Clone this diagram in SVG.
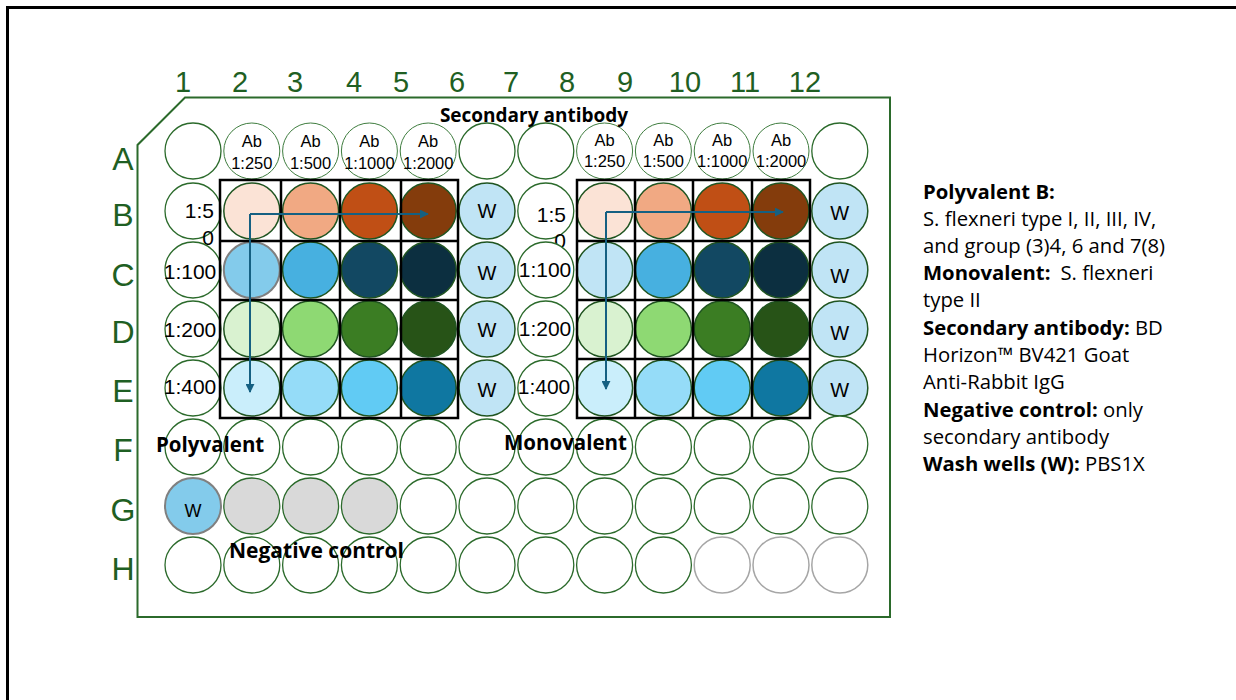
<svg xmlns="http://www.w3.org/2000/svg" width="1236" height="700" viewBox="0 0 1236 700">
<defs>
<style>
.w{fill:#fff;stroke:#2b6a2b;stroke-width:1.3}
.wa{fill:#fff;stroke:#3f7d3f;stroke-width:1}
.wc{stroke:#1f5420;stroke-width:1.5}
.wg{fill:#fff;stroke:#a6a6a6;stroke-width:1.5}
.lab{font-family:"Liberation Sans",Arial,sans-serif;fill:#1f5f23;text-anchor:middle}
.col{font-size:29px}
.row{font-size:32px}
.t{font-family:"Liberation Sans",Arial,sans-serif;fill:#000;text-anchor:middle}
.ab{font-size:16.5px}
.dil{font-size:21px}
.ww{font-size:20px}
.b{font-family:"Open Sans","Liberation Sans",sans-serif;font-weight:bold;fill:#000}
.lg{font-family:"Open Sans","Liberation Sans",sans-serif;font-size:20.3px;fill:#000}
.grid{fill:none;stroke:#000;stroke-width:2.5}
.arr{fill:none;stroke:#156082;stroke-width:2;marker-end:url(#ah)}
</style>
<marker id="ah" viewBox="0 0 10 10" refX="9" refY="5" markerWidth="4.5" markerHeight="4.5" orient="auto" markerUnits="strokeWidth">
<path d="M0,0 L10,5 L0,10 z" fill="#156082"/>
</marker>
</defs>
<rect width="1236" height="700" fill="#fff"/>
<path d="M7.5,700 V7.5 H1236" fill="none" stroke="#000" stroke-width="3"/>
<g id="plate">
<path d="M185,97.5 H890 V617 H137.5 V145 Z" fill="none" stroke="#2b6a2b" stroke-width="2"/>
</g>
<g id="column-labels" class="lab col">
<text x="183" y="92">1</text><text x="240" y="92">2</text><text x="295" y="92">3</text><text x="354" y="92">4</text><text x="401" y="92">5</text><text x="457" y="92">6</text><text x="511" y="92">7</text><text x="567" y="92">8</text><text x="625" y="92">9</text><text x="685" y="92">10</text><text x="745" y="92">11</text><text x="805" y="92">12</text>
</g>
<g id="row-labels" class="lab row">
<text x="123" y="170">A</text><text x="123" y="226">B</text><text x="123" y="286">C</text><text x="123" y="343">D</text><text x="123" y="402">E</text><text x="123" y="461">F</text><text x="123" y="521">G</text><text x="123" y="580">H</text>
</g>
<g id="wells">
<g id="A1"><circle class="w" cx="193" cy="151" r="28" stroke-width="2"/></g>
<g id="A2"><circle class="wa" cx="251.8" cy="151" r="28"/><text class="t ab" x="251.8" y="147">Ab</text><text class="t ab" x="251.8" y="169">1:250</text></g>
<g id="A3"><circle class="wa" cx="310.6" cy="151" r="28"/><text class="t ab" x="310.6" y="147">Ab</text><text class="t ab" x="310.6" y="169">1:500</text></g>
<g id="A4"><circle class="wa" cx="369.4" cy="151" r="28"/><text class="t ab" x="369.4" y="147">Ab</text><text class="t ab" x="369.4" y="169">1:1000</text></g>
<g id="A5"><circle class="wa" cx="428.2" cy="151" r="28"/><text class="t ab" x="428.2" y="147">Ab</text><text class="t ab" x="428.2" y="169">1:2000</text></g>
<g id="A6"><circle class="w" cx="487" cy="151" r="28"/></g>
<g id="A7"><circle class="w" cx="545.8" cy="151" r="28"/></g>
<g id="A8"><circle class="wa" cx="604.6" cy="151" r="28"/><text class="t ab" x="604.6" y="146">Ab</text><text class="t ab" x="604.6" y="167">1:250</text></g>
<g id="A9"><circle class="wa" cx="663.4" cy="151" r="28"/><text class="t ab" x="663.4" y="146">Ab</text><text class="t ab" x="663.4" y="167">1:500</text></g>
<g id="A10"><circle class="wa" cx="722.2" cy="151" r="28"/><text class="t ab" x="722.2" y="146">Ab</text><text class="t ab" x="722.2" y="167">1:1000</text></g>
<g id="A11"><circle class="wa" cx="781" cy="151" r="28"/><text class="t ab" x="781" y="146">Ab</text><text class="t ab" x="781" y="167">1:2000</text></g>
<g id="A12"><circle class="w" cx="839.8" cy="151" r="28"/></g>
<g id="B1"><circle class="w" cx="193" cy="211" r="28"/><text class="t dil" x="214" y="218" style="text-anchor:end">1:5</text><text class="t dil" x="214" y="245" style="text-anchor:end">0</text></g>
<g id="B2"><circle class="wc" fill="#FBE3D6" cx="251.8" cy="211" r="28"/></g>
<g id="B3"><circle class="wc" fill="#F1A983" cx="310.6" cy="211" r="28"/></g>
<g id="B4"><circle class="wc" fill="#C04F15" cx="369.4" cy="211" r="28"/></g>
<g id="B5"><circle class="wc" fill="#843C0C" cx="428.2" cy="211" r="28"/></g>
<g id="B6"><circle class="wc" fill="#C0E4F5" cx="487" cy="211" r="28"/><text class="t ww" x="487" y="218">W</text></g>
<g id="B7"><circle class="w" cx="545.8" cy="211" r="28"/><text class="t dil" x="566" y="222" style="text-anchor:end">1:5</text><text class="t dil" x="566" y="248" style="text-anchor:end">0</text></g>
<g id="B8"><circle class="wc" fill="#FBE3D6" cx="604.6" cy="211" r="28"/></g>
<g id="B9"><circle class="wc" fill="#F1A983" cx="663.4" cy="211" r="28"/></g>
<g id="B10"><circle class="wc" fill="#C04F15" cx="722.2" cy="211" r="28"/></g>
<g id="B11"><circle class="wc" fill="#843C0C" cx="781" cy="211" r="28"/></g>
<g id="B12"><circle class="wc" fill="#C0E4F5" cx="839.8" cy="211" r="28"/><text class="t ww" x="839.8" y="220">W</text></g>
<g id="C1"><circle class="w" cx="193" cy="270" r="28"/><text class="t dil" x="190" y="279">1:100</text></g>
<g id="C2"><circle fill="#83CBEB" stroke="#808080" stroke-width="2" cx="251.8" cy="270" r="28"/></g>
<g id="C3"><circle class="wc" fill="#47B0E0" cx="310.6" cy="270" r="28"/></g>
<g id="C4"><circle class="wc" fill="#124862" cx="369.4" cy="270" r="28"/></g>
<g id="C5"><circle class="wc" fill="#0C2F40" cx="428.2" cy="270" r="28"/></g>
<g id="C6"><circle class="wc" fill="#C0E4F5" cx="487" cy="270" r="28"/><text class="t ww" x="487" y="280">W</text></g>
<g id="C7"><circle class="w" cx="545.8" cy="270" r="28"/><text class="t dil" x="545" y="277">1:100</text></g>
<g id="C8"><circle class="wc" fill="#C0E4F5" cx="604.6" cy="270" r="28"/></g>
<g id="C9"><circle class="wc" fill="#47B0E0" cx="663.4" cy="270" r="28"/></g>
<g id="C10"><circle class="wc" fill="#124862" cx="722.2" cy="270" r="28"/></g>
<g id="C11"><circle class="wc" fill="#0C2F40" cx="781" cy="270" r="28"/></g>
<g id="C12"><circle class="wc" fill="#C0E4F5" cx="839.8" cy="270" r="28"/><text class="t ww" x="839.8" y="283">W</text></g>
<g id="D1"><circle class="w" cx="193" cy="329" r="28"/><text class="t dil" x="190" y="337">1:200</text></g>
<g id="D2"><circle class="wc" fill="#D9F2D0" cx="251.8" cy="329" r="28"/></g>
<g id="D3"><circle class="wc" fill="#8ED973" cx="310.6" cy="329" r="28"/></g>
<g id="D4"><circle class="wc" fill="#3B7D23" cx="369.4" cy="329" r="28"/></g>
<g id="D5"><circle class="wc" fill="#275317" cx="428.2" cy="329" r="28"/></g>
<g id="D6"><circle class="wc" fill="#C0E4F5" cx="487" cy="329" r="28"/><text class="t ww" x="487" y="337">W</text></g>
<g id="D7"><circle class="w" cx="545.8" cy="329" r="28"/><text class="t dil" x="545" y="336">1:200</text></g>
<g id="D8"><circle class="wc" fill="#D9F2D0" cx="604.6" cy="329" r="28"/></g>
<g id="D9"><circle class="wc" fill="#8ED973" cx="663.4" cy="329" r="28"/></g>
<g id="D10"><circle class="wc" fill="#3B7D23" cx="722.2" cy="329" r="28"/></g>
<g id="D11"><circle class="wc" fill="#275317" cx="781" cy="329" r="28"/></g>
<g id="D12"><circle class="wc" fill="#C0E4F5" cx="839.8" cy="329" r="28"/><text class="t ww" x="839.8" y="340">W</text></g>
<g id="E1"><circle class="w" cx="193" cy="388" r="28"/><text class="t dil" x="190" y="394">1:400</text></g>
<g id="E2"><circle class="wc" fill="#CAEEFB" cx="251.8" cy="388" r="28"/></g>
<g id="E3"><circle class="wc" fill="#95DCF8" cx="310.6" cy="388" r="28"/></g>
<g id="E4"><circle class="wc" fill="#61CBF4" cx="369.4" cy="388" r="28"/></g>
<g id="E5"><circle class="wc" fill="#0F77A1" cx="428.2" cy="388" r="28"/></g>
<g id="E6"><circle class="wc" fill="#C0E4F5" cx="487" cy="388" r="28"/><text class="t ww" x="487" y="397">W</text></g>
<g id="E7"><circle class="w" cx="545.8" cy="388" r="28"/><text class="t dil" x="544" y="394">1:400</text></g>
<g id="E8"><circle class="wc" fill="#CAEEFB" cx="604.6" cy="388" r="28"/></g>
<g id="E9"><circle class="wc" fill="#95DCF8" cx="663.4" cy="388" r="28"/></g>
<g id="E10"><circle class="wc" fill="#61CBF4" cx="722.2" cy="388" r="28"/></g>
<g id="E11"><circle class="wc" fill="#0F77A1" cx="781" cy="388" r="28"/></g>
<g id="E12"><circle class="wc" fill="#C0E4F5" cx="839.8" cy="388" r="28"/><text class="t ww" x="839.8" y="397">W</text></g>
<g id="F1"><circle class="w" cx="193" cy="447" r="28"/></g>
<g id="F2"><circle class="w" cx="251.8" cy="447" r="28"/></g>
<g id="F3"><circle class="w" cx="310.6" cy="447" r="28"/></g>
<g id="F4"><circle class="w" cx="369.4" cy="447" r="28"/></g>
<g id="F5"><circle class="w" cx="428.2" cy="447" r="28"/></g>
<g id="F6"><circle class="w" cx="487" cy="447" r="28"/></g>
<g id="F7"><circle class="w" cx="545.8" cy="447" r="28"/></g>
<g id="F8"><circle class="w" cx="604.6" cy="447" r="28"/></g>
<g id="F9"><circle class="w" cx="663.4" cy="447" r="28"/></g>
<g id="F10"><circle class="w" cx="722.2" cy="447" r="28"/></g>
<g id="F11"><circle class="w" cx="781" cy="447" r="28"/></g>
<g id="F12"><circle class="w" cx="839.8" cy="444" r="28"/></g>
<g id="G1"><circle fill="#83CBEB" stroke="#808080" stroke-width="2" cx="193" cy="506" r="28"/><text class="t" x="193" y="517" font-size="18">W</text></g>
<g id="G2"><circle class="w" style="fill:#D9D9D9" cx="251.8" cy="506" r="28"/></g>
<g id="G3"><circle class="w" style="fill:#D9D9D9" cx="310.6" cy="506" r="28"/></g>
<g id="G4"><circle class="w" style="fill:#D9D9D9" cx="369.4" cy="506" r="28"/></g>
<g id="G5"><circle class="w" cx="428.2" cy="506" r="28"/></g>
<g id="G6"><circle class="w" cx="487" cy="506" r="28"/></g>
<g id="G7"><circle class="w" cx="545.8" cy="506" r="28"/></g>
<g id="G8"><circle class="w" cx="604.6" cy="506" r="28"/></g>
<g id="G9"><circle class="w" cx="663.4" cy="506" r="28"/></g>
<g id="G10"><circle class="w" cx="722.2" cy="506" r="28"/></g>
<g id="G11"><circle class="w" cx="781" cy="506" r="28"/></g>
<g id="G12"><circle class="w" cx="839.8" cy="506" r="28"/></g>
<g id="H1"><circle class="w" cx="193" cy="565" r="28"/></g>
<g id="H2"><circle class="w" cx="251.8" cy="565" r="28"/></g>
<g id="H3"><circle class="w" cx="310.6" cy="565" r="28"/></g>
<g id="H4"><circle class="w" cx="369.4" cy="565" r="28"/></g>
<g id="H5"><circle class="w" cx="428.2" cy="565" r="28"/></g>
<g id="H6"><circle class="w" cx="487" cy="565" r="28"/></g>
<g id="H7"><circle class="w" cx="545.8" cy="565" r="28"/></g>
<g id="H8"><circle class="w" cx="604.6" cy="565" r="28"/></g>
<g id="H9"><circle class="w" cx="663.4" cy="565" r="28"/></g>
<g id="H10"><circle class="wg" cx="722.2" cy="565" r="28"/></g>
<g id="H11"><circle class="wg" cx="781" cy="565" r="28"/></g>
<g id="H12"><circle class="wg" cx="839.8" cy="565" r="28"/></g>
</g>
<g id="grid-polyvalent" class="grid">
<rect x="220" y="180" width="238" height="238"/>
<path d="M281,180 V418 M340,180 V418 M401,180 V418 M220,241 H458 M220,300 H458 M220,359 H458"/>
</g>
<g id="grid-monovalent" class="grid">
<rect x="577" y="180" width="233" height="238"/>
<path d="M635,180 V418 M693,180 V418 M752,180 V418 M577,241 H810 M577,300 H810 M577,359 H810"/>
</g>
<g id="connectors">
<path class="arr" d="M250,214 H428"/>
<path class="arr" d="M250,214 V392"/>
<path class="arr" d="M606,212 H783"/>
<path class="arr" d="M606,212 V389"/>
</g>
<g id="labels">
<text class="b" x="534" y="122" font-size="19" text-anchor="middle">Secondary antibody</text>
<text class="b" x="156" y="452" font-size="20.5">Polyvalent</text>
<text class="b" x="504" y="450" font-size="20.5">Monovalent</text>
<text class="b" x="229" y="558" font-size="21">Negative control</text>
</g>
<g id="legend" class="lg">
<text x="923" y="199"><tspan font-weight="bold">Polyvalent B:</tspan></text>
<text x="923" y="226">S. flexneri type I, II, III, IV,</text>
<text x="923" y="253">and group (3)4, 6 and 7(8)</text>
<text x="923" y="280"><tspan font-weight="bold">Monovalent:</tspan><tspan dx="10">S. flexneri</tspan></text>
<text x="923" y="307">type II</text>
<text x="923" y="335"><tspan font-weight="bold">Secondary antibody:</tspan> BD</text>
<text x="923" y="362">Horizon™ BV421 Goat</text>
<text x="923" y="389">Anti-Rabbit IgG</text>
<text x="923" y="417"><tspan font-weight="bold">Negative control:</tspan> only</text>
<text x="923" y="444">secondary antibody</text>
<text x="923" y="471"><tspan font-weight="bold">Wash wells (W):</tspan> PBS1X</text>
</g>
</svg>
